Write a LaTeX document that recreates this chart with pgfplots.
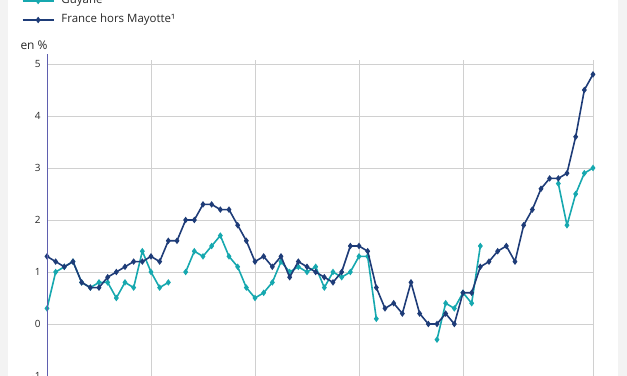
\documentclass[border=0pt]{standalone}
\usepackage{pgfplots}
\pgfplotsset{compat=1.18}
\usepackage{fontspec}
\setmainfont{Open Sans}
\definecolor{navy}{RGB}{30,60,120}
\definecolor{cyanc}{RGB}{22,168,175}
\definecolor{gridc}{RGB}{208,208,208}
\definecolor{axc}{RGB}{95,95,175}
\definecolor{bgc}{RGB}{243,243,243}
\definecolor{txt}{RGB}{40,40,40}
\begin{document}
\begin{tikzpicture}
\fill[bgc] (-47bp,0bp) rectangle (-39bp,376bp);
\fill[bgc] (571bp,0bp) rectangle (580bp,376bp);
\begin{axis}[
  at={(0bp,0bp)}, anchor=south west,
  scale only axis, width=546bp, height=316.16bp,
  xmin=0, xmax=63, ymin=-1, ymax=5.08,
  xtick={0,12,24,36,48,63}, xticklabels={},
  ytick={-1,0,1,2,3,4,5},
  grid=major, major grid style={gridc, line width=0.9bp},
  major tick length=0pt,
  axis line style={draw=none},
  clip mode=individual,
  tick label style={font=\fontsize{10}{11}\selectfont, text=txt},
  yticklabel style={xshift=-3bp},
  /pgf/number format/assume math mode=true,
  unbounded coords=jump,
  legend cell align=left,
  legend image code/.code={\draw[mark repeat=2,mark phase=2,#1] plot coordinates {(0bp,0bp) (15.5bp,0bp) (31bp,0bp)};},
  legend style={draw=none, fill=none, inner sep=0pt, outer sep=0pt,
    at={(rel axis cs:-0.046,1.1086)}, anchor=south west,
    font=\fontsize{11.5}{13}\selectfont, text=txt,
    row sep=8bp, column sep=7bp,
    nodes={inner sep=0pt, text height=8.5bp, text depth=2.5bp}},
]
\addplot[cyanc, line width=1.6bp, mark=diamond*, mark size=2bp] table[x=i, y=v] {
i v
0 0.3
1 1.0
2 1.1
3 1.2
4 0.8
5 0.7
6 0.8
7 0.8
8 0.5
9 0.8
10 0.7
11 1.4
12 1.0
13 0.7
14 0.8
15 nan
16 1.0
17 1.4
18 1.3
19 1.5
20 1.7
21 1.3
22 1.1
23 0.7
24 0.5
25 0.6
26 0.8
27 1.2
28 1.0
29 1.1
30 1.0
31 1.1
32 0.7
33 1.0
34 0.9
35 1.0
36 1.3
37 1.3
38 0.1
39 nan
40 nan
41 nan
42 nan
43 nan
44 nan
45 -0.3
46 0.4
47 0.3
48 0.6
49 0.4
50 1.5
51 nan
52 nan
53 nan
54 nan
55 nan
56 nan
57 nan
58 nan
59 2.7
60 1.9
61 2.5
62 2.9
63 3.0
};
\addlegendentry{Guyane¹}
\addplot[navy, line width=1.6bp, mark=diamond*, mark size=2bp] table[x=i, y=v] {
i v
0 1.3
1 1.2
2 1.1
3 1.2
4 0.8
5 0.7
6 0.7
7 0.9
8 1.0
9 1.1
10 1.2
11 1.2
12 1.3
13 1.2
14 1.6
15 1.6
16 2.0
17 2.0
18 2.3
19 2.3
20 2.2
21 2.2
22 1.9
23 1.6
24 1.2
25 1.3
26 1.1
27 1.3
28 0.9
29 1.2
30 1.1
31 1.0
32 0.9
33 0.8
34 1.0
35 1.5
36 1.5
37 1.4
38 0.7
39 0.3
40 0.4
41 0.2
42 0.8
43 0.2
44 0.0
45 0.0
46 0.2
47 0.0
48 0.6
49 0.6
50 1.1
51 1.2
52 1.4
53 1.5
54 1.2
55 1.9
56 2.2
57 2.6
58 2.8
59 2.8
60 2.9
61 3.6
62 4.5
63 4.8
};
\addlegendentry{France hors Mayotte¹}
\draw[axc, line width=0.9bp] (rel axis cs:0,0) -- (axis cs:0,5.2);
\node[anchor=base, font=\fontsize{12}{14}\selectfont, text=txt, inner sep=0pt] at (axis cs:-1.5,5.27) {en \%};
\end{axis}
\pgfresetboundingbox
\path[use as bounding box] (-47bp,0bp) rectangle (580bp,376bp);
\end{tikzpicture}
\end{document}
